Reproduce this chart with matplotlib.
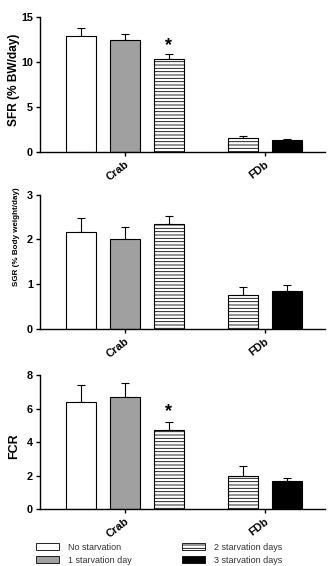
import matplotlib.pyplot as plt
from matplotlib.patches import Patch
from matplotlib.transforms import ScaledTranslation

plt.rcParams["font.family"] = ["Liberation Sans", "DejaVu Sans"]
plt.rcParams["hatch.linewidth"] = 0.6

groups = ["Crab", "FDb"]
treatments = ["No starvation", "1 starvation day", "2 starvation days", "3 starvation days"]

# Crab gets treatments 0,1,2 ; FDb gets treatments 2,3
crab_idx = [0, 1, 2]
fdb_idx = [2, 3]

sfr_crab = [12.9, 12.5, 10.3]
sfr_crab_err = [0.9, 0.65, 0.55]
sfr_fdb = [1.52, 1.37]
sfr_fdb_err = [0.26, 0.13]

sgr_crab = [2.17, 2.01, 2.34]
sgr_crab_err = [0.32, 0.27, 0.19]
sgr_fdb = [0.77, 0.86]
sgr_fdb_err = [0.17, 0.13]

fcr_crab = [6.41, 6.67, 4.70]
fcr_crab_err = [0.97, 0.83, 0.50]
fcr_fdb = [1.98, 1.67]
fcr_fdb_err = [0.62, 0.21]

styles = [
    dict(facecolor="white", hatch=None),
    dict(facecolor="#a0a0a0", hatch=None),
    dict(facecolor="white", hatch="-----"),
    dict(facecolor="black", hatch=None),
]

bw = 0.214
crab_off = [-0.314, 0, 0.314]
fdb_off = [-0.157, 0.157]

fig = plt.figure(figsize=(3.29, 5.66), dpi=100)


def panel(rect, crab, crab_err, fdb, fdb_err, ylim, yticks, ylabel, lsize, ly, star=None):
    ax = fig.add_axes(rect)
    for vals, errs, idx, offs, g in [(crab, crab_err, crab_idx, crab_off, 0),
                                      (fdb, fdb_err, fdb_idx, fdb_off, 1)]:
        for v, e, i, o in zip(vals, errs, idx, offs):
            st = styles[i]
            ax.bar(g + o, v, bw, color=st["facecolor"], edgecolor="black",
                   linewidth=0.8, hatch=st["hatch"], zorder=2)
            ax.errorbar(g + o, v, yerr=[[0], [e]], fmt="none", ecolor="black",
                        elinewidth=0.8, capsize=3, capthick=0.8, zorder=1)
    if star is not None:
        ax.text(crab_off[2], star, "*", ha="center", va="bottom",
                fontsize=13, fontweight="bold")
    ax.set_xlim(-0.607, 1.43)
    ax.set_ylim(*ylim)
    ax.set_yticks(yticks)
    ax.set_xticks([0, 1])
    ax.set_xticklabels(groups, rotation=38, ha="right", va="top",
                       rotation_mode="anchor", fontsize=8, fontweight="bold")
    shift = ScaledTranslation(0.07, -0.02, fig.dpi_scale_trans)
    for lab in ax.get_xticklabels():
        lab.set_transform(lab.get_transform() + shift)
    for lab in ax.get_yticklabels():
        lab.set_fontsize(7.8)
        lab.set_fontweight("bold")
    ax.set_ylabel(ylabel, fontsize=lsize, fontweight="bold")
    ax.yaxis.set_label_coords(-0.07, ly)
    ax.spines["top"].set_visible(False)
    ax.spines["right"].set_visible(False)
    ax.spines["left"].set_linewidth(1.0)
    ax.spines["bottom"].set_linewidth(1.0)
    ax.tick_params(axis="both", length=3, width=1.0, pad=2)
    return ax


panel([0.1216, 0.7314, 0.866, 0.2385], sfr_crab, sfr_crab_err, sfr_fdb, sfr_fdb_err,
      (0, 15), [0, 5, 10, 15], "SFR (% BW/day)", 8.6, 0.537, star=10.9)
panel([0.1216, 0.4187, 0.866, 0.2373], sgr_crab, sgr_crab_err, sgr_fdb, sgr_fdb_err,
      (0, 3), [0, 1, 2, 3], "SGR (% Body weight/day)", 5.8, 0.685)
panel([0.1216, 0.1002, 0.866, 0.2373], fcr_crab, fcr_crab_err, fcr_fdb, fcr_fdb_err,
      (0, 8), [0, 2, 4, 6, 8], "FCR", 9, 0.47, star=5.3)

handles = [Patch(facecolor=s["facecolor"], edgecolor="black", linewidth=0.6,
                 hatch=s["hatch"]) for s in styles]
fig.legend(handles, treatments, loc="lower left", bbox_to_anchor=(0.085, -0.012),
           ncol=2, frameon=False, fontsize=6.5, handlelength=2.5, handleheight=0.8,
           handletextpad=1.0, columnspacing=5.6, labelspacing=0.45,
           labelcolor="#333333")

fig.savefig("out.png", dpi=100)
